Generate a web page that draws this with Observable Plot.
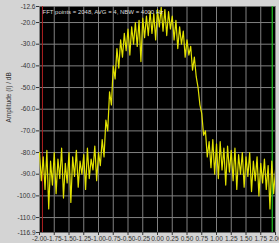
<!DOCTYPE html>
<html>
<head>
<meta charset="utf-8">
<script src="https://cdn.jsdelivr.net/npm/d3@7"></script>
<script src="https://cdn.jsdelivr.net/npm/@observablehq/plot@0.6"></script>
<style>
  html, body { margin: 0; padding: 0; background: #d4d4d4; }
  #chart svg { display: block; }
</style>
</head>
<body>
<div id="chart"></div>
<script>
const freqStart = -2;
const freqStep = 1 / 32;
const amplitude = [
  -80, -93, -82, -97, -79, -106, -84, -95, -80, -99, -83, -92, -78, -101, -85, -94,
  -80, -103, -82, -91, -79, -96, -84, -90, -81, -97, -78, -92, -83, -88, -77, -93,
  -80, -86, -74, -82, -65, -70, -52, -58, -40, -46, -32, -41, -28, -36, -25, -33,
  -23, -35, -22, -30, -20, -31, -19, -38, -18, -27, -17, -26, -15, -25, -16, -28,
  -14, -22, -13, -24, -14, -26, -15, -23, -17, -28, -19, -32, -22, -30, -24, -36,
  -28, -35, -31, -42, -36, -45, -50, -58, -62, -72, -70, -82, -75, -87, -74, -90,
  -76, -92, -75, -88, -78, -95, -77, -89, -79, -93, -78, -97, -81, -90, -80, -96,
  -82, -91, -80, -98, -84, -93, -82, -100, -85, -94, -83, -97, -86, -106, -84, -99,
  -88
];
const xTicks = [-2, -1.75, -1.5, -1.25, -1, -0.75, -0.5, -0.25, 0, 0.25, 0.5, 0.75, 1, 1.25, 1.5, 1.75, 2];
const yTicks = [-12.6, -20, -30, -40, -50, -60, -70, -80, -90, -100, -110, -116.9];
const yGrid = [-20, -30, -40, -50, -60, -70, -80, -90, -100, -110];
const cursorRed = [-1.95];
const cursorGreen = [1.945];
const titleText = "FFT points = 2048, AVG = 4, NBW = 4000 Hz";
const yLabel = "Amplitude (I) / dB";

const data = amplitude.map((a, i) => ({f: freqStart + i * freqStep, a}));

const chart = Plot.plot({
  width: 279,
  height: 243,
  marginLeft: 39,
  marginRight: 4,
  marginTop: 6,
  marginBottom: 11,
  style: {background: "#d4d4d4", fontFamily: "Liberation Sans, Arial, sans-serif", fontSize: "7px", color: "#333"},
  x: {domain: [-2, 2]},
  y: {domain: [-116.9, -12.6]},
  marks: [
    Plot.frame({fill: "black"}),
    Plot.gridX(xTicks, {stroke: "#808080", strokeOpacity: 1}),
    Plot.gridY(yGrid, {stroke: "#808080", strokeOpacity: 1}),
    Plot.ruleX(cursorRed, {stroke: "#b02020", strokeWidth: 1}),
    Plot.ruleX(cursorGreen, {stroke: "#20c020", strokeWidth: 1.2}),
    Plot.line(data, {x: "f", y: "a", stroke: "#e2e200", strokeWidth: 1.2, clip: true}),
    Plot.text([titleText], {frameAnchor: "top-left", dx: 3, dy: 3, fill: "#dddddd", fontSize: 6, textAnchor: "start"}),
    Plot.axisX(xTicks, {tickFormat: d => d.toFixed(2), tickSize: 3, tickPadding: 1, fontSize: 6.5, label: null, fill: "#333"}),
    Plot.axisY(yTicks, {tickFormat: d => d.toFixed(1), tickSize: 3, tickPadding: 1, fontSize: 6.5, label: null, fill: "#333"}),
    Plot.text([yLabel], {frameAnchor: "left", dx: -31, dy: 3, rotate: -90, fontSize: 6.5, fill: "#333"})
  ]
});
document.getElementById("chart").appendChild(chart);
</script>
</body>
</html>
